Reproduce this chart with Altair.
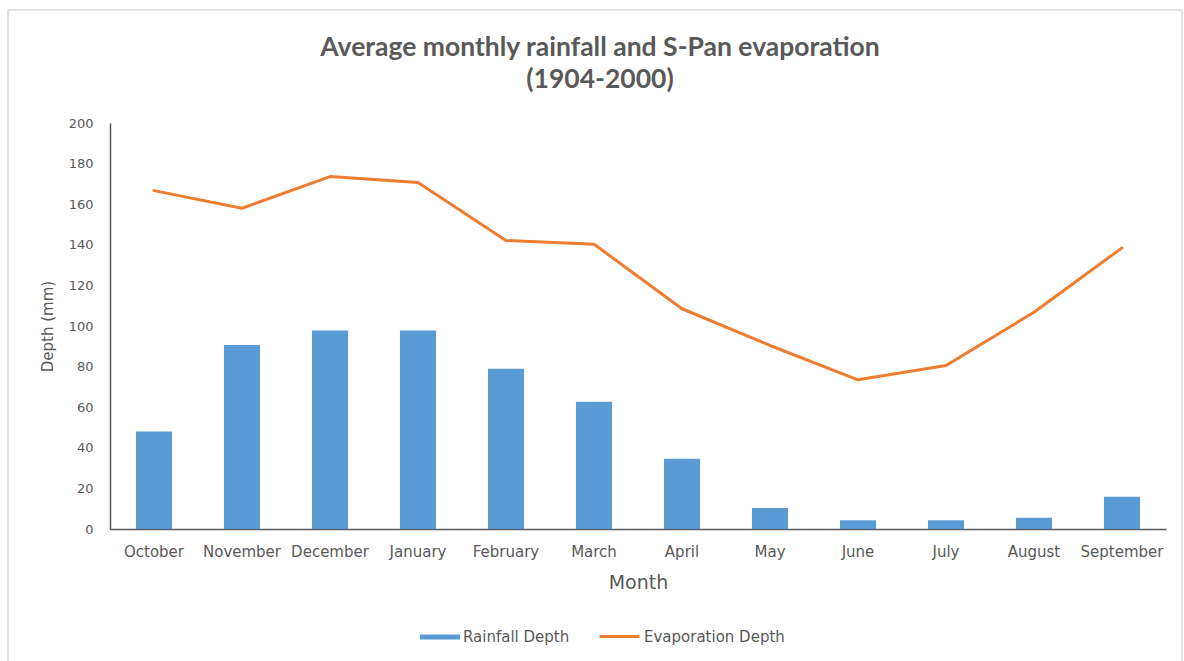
import altair as alt
import pandas as pd

# Monthly averages, hydrological year order (October -> September)
months = ["October", "November", "December", "January", "February", "March",
          "April", "May", "June", "July", "August", "September"]
rainfall = [48.0, 90.7, 97.8, 97.8, 78.9, 62.7, 34.6, 10.4, 4.3, 4.3, 5.5, 15.9]
evaporation = [166.7, 158.0, 173.6, 170.7, 142.1, 140.3, 108.5, 90.4, 73.5, 80.5, 106.8, 138.5]
y_ticks = [0, 20, 40, 60, 80, 100, 120, 140, 160, 180, 200]

df = pd.DataFrame({
    "Month": months,
    "Rainfall": rainfall,
    "Evaporation": evaporation,
    "rain_series": ["Rainfall Depth"] * len(months),
    "evap_series": ["Evaporation Depth"] * len(months),
})

BLUE = "#5B9BD5"
ORANGE = "#ED7D31"
TEXT = "#595959"
FONT = "DejaVu Sans"

x_enc = alt.X(
    "Month:N", sort=months, title="Month",
    scale=alt.Scale(paddingInner=0.59, paddingOuter=0.295),
    axis=alt.Axis(labelAngle=0, labelFont=FONT, labelFontSize=15, labelColor=TEXT,
                  titleFont=FONT, titleFontSize=19, titleColor=TEXT, titleFontWeight="normal",
                  titlePadding=14, ticks=False, domainColor="#595959", domainWidth=1.5,
                  labelPadding=15),
)
y_scale = alt.Scale(domain=[0, 200], nice=False)
y_axis = alt.Axis(values=y_ticks, grid=False, ticks=False, domainColor="#595959",
                  domainWidth=1.5, labelFont=FONT, labelFontSize=13, labelColor=TEXT,
                  labelPadding=17, titleFont=FONT, titleFontSize=15, titleColor=TEXT,
                  titleFontWeight="normal", titlePadding=13)

bars = alt.Chart(df).mark_bar(opacity=1).encode(
    x=x_enc,
    y=alt.Y("Rainfall:Q", scale=y_scale, axis=y_axis, title="Depth (mm)"),
    color=alt.Color(
        "rain_series:N", scale=alt.Scale(range=[BLUE]), title=None,
        legend=alt.Legend(orient="none", legendX=310, legendY=494, direction="horizontal",
                          symbolType="M-1,-0.125H1V0.125H-1Z", symbolSize=1600,
                          symbolStrokeWidth=0, labelFont=FONT, labelFontSize=15,
                          labelColor=TEXT, labelOffset=3, padding=0),
    ),
)

line = alt.Chart(df).mark_line(strokeWidth=3, strokeCap="round", strokeJoin="round").encode(
    x=alt.X("Month:N", sort=months),
    y=alt.Y("Evaporation:Q", scale=y_scale),
    color=alt.Color(
        "evap_series:N", scale=alt.Scale(range=[ORANGE]), title=None,
        legend=alt.Legend(orient="none", legendX=488, legendY=492, direction="horizontal",
                          symbolType="stroke", symbolSize=1600, symbolStrokeWidth=3,
                          labelFont=FONT, labelFontSize=15, labelColor=TEXT,
                          labelOffset=3, padding=0),
    ),
)

# Light frame around the whole figure
frame = alt.Chart(alt.Data(values=[{}])).mark_rect(
    fill=None, stroke="#d9d9d9", strokeWidth=1.5, clip=False
).encode(
    x=alt.value(-102), x2=alt.value(1072), y=alt.value(-113), y2=alt.value(560)
)

chart = alt.layer(frame, bars, line).resolve_scale(color="independent").properties(
    width=1056,
    height=406,
    autosize=alt.AutoSizeParams(type="none"),
    padding={"left": 110, "top": 123, "right": 18, "bottom": 132},
    title=alt.Title(
        ["Average monthly rainfall and S-Pan evaporation", "(1904-2000)"],
        font="Lato", fontSize=26.5, fontWeight="bold", color=TEXT, anchor="middle",
        frame="group", dx=-38, offset=-84, lineHeight=32,
    ),
).configure(background="white").configure_view(stroke=None)

chart.save("out.html", embed_options={"renderer": "svg", "actions": False})
